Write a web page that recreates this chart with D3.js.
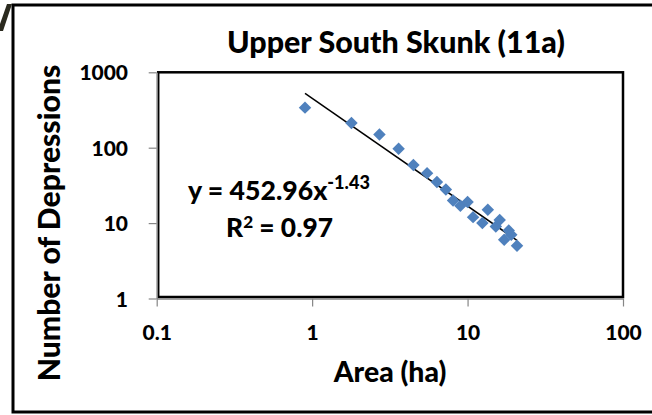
<!DOCTYPE html>
<html>
<head>
<meta charset="utf-8">
<script src="https://cdn.jsdelivr.net/npm/d3@7"></script>
<style>
  html, body { margin: 0; padding: 0; background: #fff; }
  svg { display: block; }
  text { font-family: Lato, "Open Sans", sans-serif; font-weight: 900; fill: #000; }
</style>
</head>
<body>
<svg id="chart" width="652" height="415"></svg>
<script>
// Depression size distribution, Upper South Skunk (11a)
const area = [0.90, 1.79, 2.71, 3.60, 4.48, 5.49, 6.35, 7.25, 8.07, 8.99, 10.0, 10.85, 12.45, 13.5, 15.2, 16.1, 17.2, 18.4, 19.1, 20.8];
const depressions = [340, 213, 150, 97, 59, 46, 35, 28, 20, 17, 19, 12, 10, 15, 9, 11, 6, 8, 7, 5];

// Power-law fit y = a * x^b
const fitA = 452.96;
const fitB = -1.43;
const fitR2 = 0.97;

const xTicks = [0.1, 1, 10, 100];
const xTickLabels = ["0.1", "1", "10", "100"];
const yTicks = [1, 10, 100, 1000];
const yTickLabels = ["1", "10", "100", "1000"];

const svg = d3.select("#chart");
const plot = { left: 156.7, right: 623, top: 72.3, bottom: 298.5 };
const FONT = "Lato, 'Open Sans', sans-serif";
const WEIGHT = 900;

const x = d3.scaleLog().domain([0.1, 100]).range([plot.left, plot.right]);
const y = d3.scaleLog().domain([1, 1000]).range([plot.bottom, plot.top]);

// fit a text element's font size to a target width
function fitWidth(sel, target) {
  const w = sel.node().getBBox().width;
  const fs = parseFloat(sel.attr("font-size"));
  sel.attr("font-size", fs * target / w);
}

// outer frame
svg.append("path")
  .attr("d", "M652,5 L13,5 L13,412 L652,412")
  .attr("fill", "none").attr("stroke", "#000").attr("stroke-width", 3);
svg.append("polygon")
  .attr("points", "7,4 12,4 3,31 0,31 0,24")
  .attr("fill", "#2b2a1f");

// plot frame
svg.append("rect")
  .attr("x", plot.left + 1.5).attr("y", plot.top)
  .attr("width", plot.right - plot.left - 1.5)
  .attr("height", plot.bottom - plot.top - 1.5)
  .attr("fill", "none").attr("stroke", "#000").attr("stroke-width", 2.5);

// axes
const gx = svg.append("g").attr("transform", `translate(0,${plot.bottom})`)
  .call(d3.axisBottom(x).tickValues(xTicks).tickSize(8).tickSizeOuter(0)
    .tickFormat((d, i) => xTickLabels[i]));
const gy = svg.append("g").attr("transform", `translate(${plot.left},0)`)
  .call(d3.axisLeft(y).tickValues(yTicks).tickSize(8).tickSizeOuter(0)
    .tickFormat((d, i) => yTickLabels[i]));

[gx, gy].forEach(g => {
  g.select(".domain").attr("stroke", "#868686").attr("stroke-width", 1.5);
  g.selectAll(".tick line").attr("stroke", "#868686").attr("stroke-width", 1.2);
  g.selectAll(".tick text")
    .attr("font-family", FONT)
    .attr("font-weight", WEIGHT).attr("fill", "#000");
});
gx.selectAll(".tick text").attr("y", 41.5).attr("dy", 0).attr("font-size", 22);
gy.selectAll(".tick text").attr("x", 128 - plot.left).attr("y", 7.5).attr("dy", 0)
  .attr("text-anchor", "end").attr("font-size", 22);

// scale tick labels so "100" spans its measured width
const ref100 = gx.selectAll(".tick text").filter((d, i) => i === 3);
const w100 = ref100.node().getBBox().width;
const tickFs = 22 * 36.7 / w100;
gx.selectAll(".tick text").attr("font-size", tickFs);
gy.selectAll(".tick text").attr("font-size", tickFs);

// trend line over the data range
const fitX = [d3.min(area), d3.max(area)];
svg.append("path")
  .datum(fitX)
  .attr("d", d3.line().x(d => x(d)).y(d => y(fitA * Math.pow(d, fitB))))
  .attr("fill", "none").attr("stroke", "#000").attr("stroke-width", 1.5);

// markers (diamonds)
const diamond = d3.symbol().type(d3.symbolSquare).size(78);
svg.append("g").selectAll("path")
  .data(area.map((a, i) => [a, depressions[i]]))
  .join("path")
  .attr("d", diamond)
  .attr("transform", d => `translate(${x(d[0])},${y(d[1])}) rotate(45)`)
  .attr("fill", "#4f81bd");

// title and axis titles
const title = svg.append("text").attr("x", 396).attr("y", 53)
  .attr("text-anchor", "middle").attr("font-size", 28)
  .text("Upper South Skunk (11a)");
fitWidth(title, 338);

const xt = svg.append("text").attr("x", 390).attr("y", 381.5)
  .attr("text-anchor", "middle").attr("font-size", 22).text("Area (ha)");
fitWidth(xt, 114);

const yt = svg.append("text")
  .attr("transform", "translate(60,223) rotate(-90)")
  .attr("text-anchor", "middle").attr("font-size", 22).text("Number of Depressions");
fitWidth(yt, 317);

// equation and R²
const eq = svg.append("text").attr("x", 188).attr("y", 200).attr("font-size", 24);
eq.append("tspan").text(`y = ${fitA.toFixed(2)}x`);
eq.append("tspan").attr("font-size", "0.68em").attr("dy", "-0.62em").text(fitB.toFixed(2));
fitWidth(eq, 182);

const r2 = svg.append("text").attr("x", 279.5).attr("y", 237)
  .attr("text-anchor", "middle").attr("font-size", 24);
r2.append("tspan").text("R");
r2.append("tspan").attr("font-size", "0.65em").attr("dy", "-0.55em").text("2");
r2.append("tspan").attr("dy", "0.36em").text(` = ${fitR2.toFixed(2)}`);
fitWidth(r2, 107);
</script>
</body>
</html>
